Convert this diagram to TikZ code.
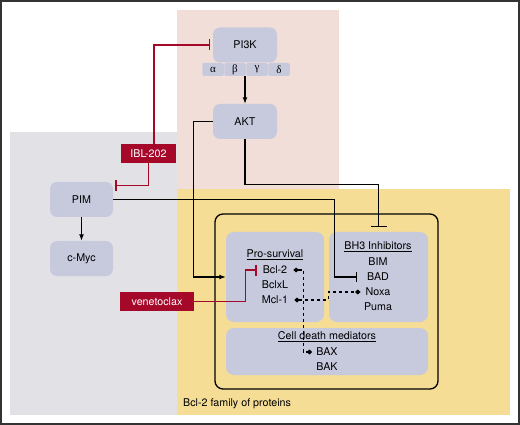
\documentclass[tikz,border=0pt]{standalone}
\usepackage{fontspec}
\setmainfont{TeX Gyre Heros}
\newfontfamily\grk{Liberation Serif}
\usetikzlibrary{arrows.meta,positioning}
\definecolor{pinkbg}{RGB}{241,222,216}
\definecolor{graybg}{RGB}{226,226,230}
\definecolor{yellowbg}{RGB}{245,221,150}
\definecolor{protfill}{RGB}{199,201,221}
\definecolor{drugred}{RGB}{166,8,42}
\begin{document}
\begin{tikzpicture}[x=1pt,y=-1pt,font=\fontsize{10.7}{12}\selectfont,prot/.style={fill=protfill,rounded corners=7pt,minimum width=64pt,minimum height=35pt,inner sep=0pt},sub/.style={fill=protfill,rounded corners=2pt,minimum width=21.5pt,minimum height=13pt,inner sep=0pt,font=\grk\fontsize{11}{11}\selectfont},grp/.style={fill=protfill,rounded corners=8pt,inner sep=0pt},drug/.style={fill=drugred,text=white,inner sep=0pt,minimum height=19pt},lbl/.style={inner sep=1pt},act/.style={line width=1.2pt,-{Latex[length=6.5pt,width=5pt]}},blk/.style={line width=1.2pt,-{Bar[width=10pt]}},inh/.style={draw=drugred,line width=1.3pt,-{Bar[width=11pt]}},dia/.style={line width=1.1pt,dash pattern=on 3.5pt off 2.5pt,{Diamond[length=5.5pt,width=5pt]}-{Diamond[length=5.5pt,width=5pt]}}]
\useasboundingbox (0,0) rectangle (520,425);
\fill[pinkbg] (177,10) rectangle (339,189);
\fill[graybg] (10,132) rectangle (177,415);
\fill[yellowbg] (177,189) rectangle (510,415);
\draw[line width=1.3pt,black!80] (1,1) rectangle (519,424);
\node[prot] (pi3k) at (245,45) {PI3K};
\node[sub] (alpha) at (213,69.5) {α};
\node[sub] (beta) at (235,69.5) {β};
\node[sub] (gamma) at (257,69.5) {γ};
\node[sub] (delta) at (279,69.5) {δ};
\node[prot] (akt) at (245,121.5) {AKT};
\node[prot,minimum width=63pt] (pim) at (81.5,199.5) {PIM};
\node[prot,minimum width=63pt] (cmyc) at (81.5,258.5) {c-Myc};
\node[drug,minimum width=55pt] (ibl) at (148.5,153.5) {IBL-202};
\node[drug,minimum width=74pt] (ven) at (157,301.5) {venetoclax};
\node[draw,rounded corners=8pt,line width=1.3pt,minimum width=223pt,minimum height=175pt] (fam) at (326.5,301.5) {};
\node[anchor=west,inner sep=0pt] (famlbl) at (183,404) {Bcl-2 family of proteins};
\node[grp,minimum width=98pt,minimum height=90pt] (pro) at (275,277) {};
\node[grp,minimum width=99pt,minimum height=90pt] (bh3) at (378.5,277) {};
\node[grp,minimum width=202pt,minimum height=47pt] (cdm) at (327,351.5) {};
\node[lbl] (protitle) at (275,255) {\underline{Pro-survival}};
\node[lbl] (bcl2) at (275,270) {Bcl-2};
\node[lbl] (bclxl) at (275,285) {BclxL};
\node[lbl] (mcl1) at (275,300) {Mcl-1};
\node[lbl] (bh3title) at (378,247) {\underline{BH3 Inhibitors}};
\node[lbl] (bim) at (378,262) {BIM};
\node[lbl] (bad) at (378,277) {BAD};
\node[lbl] (noxa) at (378,292) {Noxa};
\node[lbl] (puma) at (378,307) {Puma};
\node[lbl] (cdmtitle) at (327,337) {\underline{Cell death mediators}};
\node[lbl] (bax) at (327,352) {BAX};
\node[lbl] (bak) at (327,367) {BAK};
\draw[act] (pi3k.south |- alpha.south) -- (akt.north);
\draw[act] (pim) -- (cmyc);
\draw[act] (akt.west) -- ++(-19,0) |- (pro.west);
\draw[blk,-{Bar[width=16pt]}] (akt.south) -- ++(0,45) -| ([yshift=5pt]bh3.north);
\draw[blk] (pim.east) -- ++(221,0) |- ([xshift=-9pt]bad.west);
\draw[inh] ([xshift=5.5pt]ibl.north) |- ([xshift=-3pt]pi3k.west);
\draw[inh] (ibl.south) |- ([shift={(2pt,-4pt)}]pim.north east);
\draw[inh] (ven.east) -- ++(51,0) |- ([xshift=-5pt]bcl2.west);
\draw[dia] ([xshift=5pt]bcl2.east) -- ++(10,0) |- ([xshift=-3pt]bax.west);
\draw[dia] ([xshift=5pt]mcl1.east) -- ++(34,0) |- ([xshift=-4pt]noxa.west);
\end{tikzpicture}
\end{document}
